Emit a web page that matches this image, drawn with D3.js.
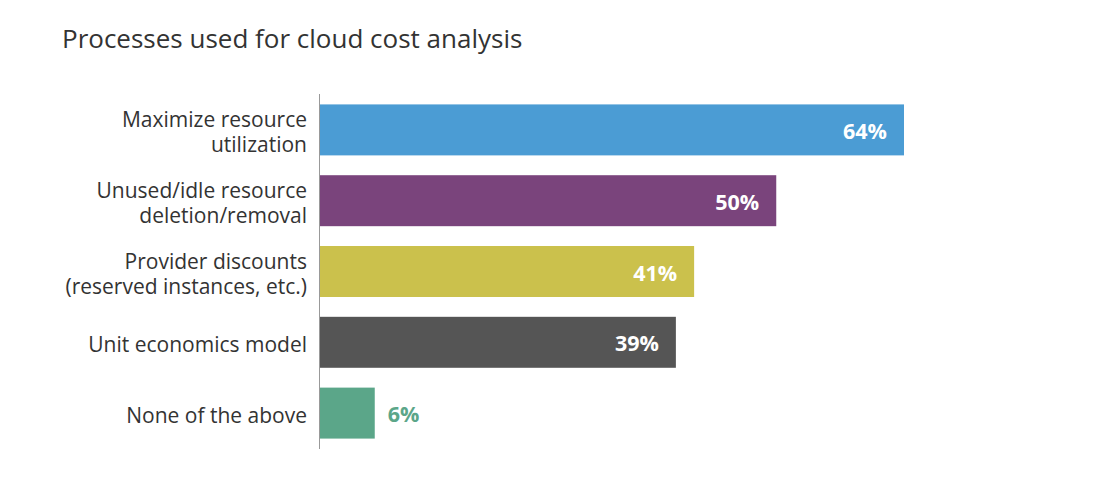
<!DOCTYPE html>
<html><head><meta charset="utf-8">
<script src="https://cdn.jsdelivr.net/npm/d3@7"></script>
<style>body{margin:0;background:#fff}svg{display:block}</style>
</head><body><svg id="c" width="1096" height="491"></svg>
<script>
const categories = [
  ["Maximize resource","utilization"],
  ["Unused/idle resource","deletion/removal"],
  ["Provider discounts","(reserved instances, etc.)"],
  ["Unit economics model"],
  ["None of the above"]
];
const values = [64, 50, 41, 39, 6];
const colors = ["#4b9cd4", "#7a447c", "#cbc14c", "#555555", "#5ba689"];
const title = "Processes used for cloud cost analysis";

const font = "'Open Sans', sans-serif";
const svg = d3.select("#c");
svg.append("text").attr("x", 62).attr("y", 48).attr("font-family", font)
  .attr("font-size", 26).attr("fill", "#333").text(title);

const x = d3.scaleLinear().domain([0, 100]).range([320, 320 + 912.5]);
const y = d3.scaleBand().domain(d3.range(values.length)).range([94.5, 448.5]).paddingInner(0.28).paddingOuter(0.14);

svg.selectAll("rect.bar").data(values).join("rect").attr("class","bar")
  .attr("x", x(0)).attr("y", (d,i)=>y(i)).attr("width", d=>x(d)-x(0)).attr("height", y.bandwidth())
  .attr("fill", (d,i)=>colors[i]);

svg.append("line").attr("x1", 319.5).attr("x2", 319.5).attr("y1", 94).attr("y2", 449)
  .attr("stroke", "#999").attr("stroke-width", 1);

categories.forEach((d,i)=>{
  const cy = y(i) + y.bandwidth()/2;
  const lh = 25;
  d.forEach((line,j)=>{
    svg.append("text").attr("class","cat")
      .attr("font-family", font).attr("font-size", 21).attr("fill", "#333").attr("text-anchor","end")
      .attr("x", 307).attr("y", cy + (j - (d.length-1)/2)*lh + 9.5).text(line);
  });
});

svg.selectAll("text.val").data(values).join("text").attr("class","val")
  .attr("font-family", font).attr("font-size", 21.5).attr("font-weight", "bold")
  .attr("x", d => d > 10 ? x(d) - 17 : x(d) + 13)
  .attr("text-anchor", d => d > 10 ? "end" : "start")
  .attr("y", (d,i)=>y(i)+y.bandwidth()/2 + 9)
  .attr("fill", (d,i)=> d > 10 ? "#fff" : colors[i])
  .text(d => d + "%");
</script></body></html>
